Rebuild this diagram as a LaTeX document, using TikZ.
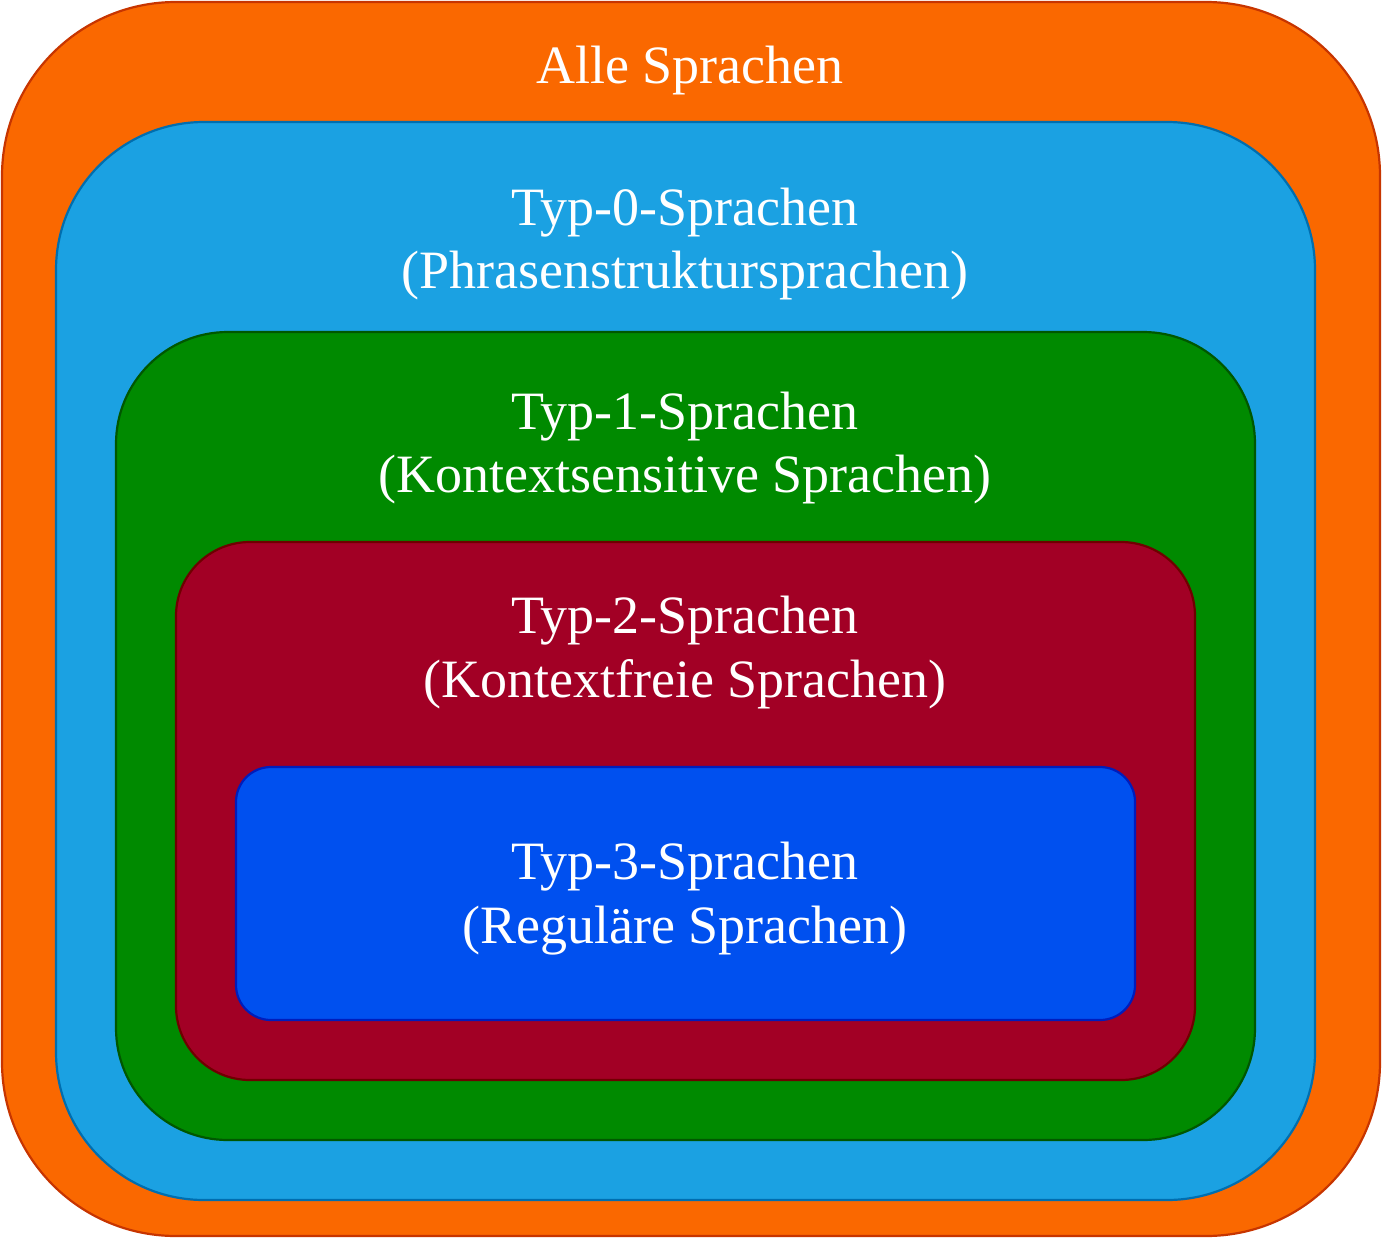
\documentclass[tikz,border=0pt]{standalone}
\usepackage{fontspec}
\setmainfont{Liberation Serif}
\definecolor{orangeFill}{HTML}{FA6800}
\definecolor{orangeLine}{HTML}{C73500}
\definecolor{skyFill}{HTML}{1BA1E2}
\definecolor{skyLine}{HTML}{006EAF}
\definecolor{greenFill}{HTML}{008A00}
\definecolor{greenLine}{HTML}{005700}
\definecolor{crimsonFill}{HTML}{A20025}
\definecolor{crimsonLine}{HTML}{6F0000}
\definecolor{cobaltFill}{HTML}{0050EF}
\definecolor{cobaltLine}{HTML}{001DBC}
\begin{document}
\begin{tikzpicture}[x=1pt,y=-1pt,
  langset/.style={rectangle, inner sep=0pt, outer sep=0pt, line width=2.2pt},
  label/.style={anchor=base, inner sep=0pt, text=white,
    font=\fontsize{54}{63}\selectfont}]
  \useasboundingbox (0,0) rectangle (1383,1239);

  % nested language classes, outermost first
  \node[langset, fill=orangeFill, draw=orangeLine, rounded corners=174pt,
        minimum width=1378pt, minimum height=1234pt] (all) at (691,619) {};
  \node[langset, fill=skyFill, draw=skyLine, rounded corners=148pt,
        minimum width=1259pt, minimum height=1078pt] (t0) at (685.5,661) {};
  \node[langset, fill=greenFill, draw=greenLine, rounded corners=112pt,
        minimum width=1139pt, minimum height=808pt] (t1) at (685.5,736) {};
  \node[langset, fill=crimsonFill, draw=crimsonLine, rounded corners=74pt,
        minimum width=1019pt, minimum height=538pt] (t2) at (685.5,811) {};
  \node[langset, fill=cobaltFill, draw=cobaltLine, rounded corners=35pt,
        minimum width=899pt, minimum height=253pt] (t3) at (685.5,893.5) {};

  % labels
  \node[label] (allA) at (690,83) {Alle Sprachen};
  \node[label] (t0A) at (685,225) {Typ-0-Sprachen};
  \node[label] (t0B) at (685,288) {(Phrasenstruktursprachen)};
  \node[label] (t1A) at (685,429) {Typ-1-Sprachen};
  \node[label] (t1B) at (685,492) {(Kontextsensitive Sprachen)};
  \node[label] (t2A) at (685,633) {Typ-2-Sprachen};
  \node[label] (t2B) at (685,697) {(Kontextfreie Sprachen)};
  \node[label] (t3A) at (685,879) {Typ-3-Sprachen};
  \node[label] (t3B) at (685,943) {(Reguläre Sprachen)};
\end{tikzpicture}
\end{document}
